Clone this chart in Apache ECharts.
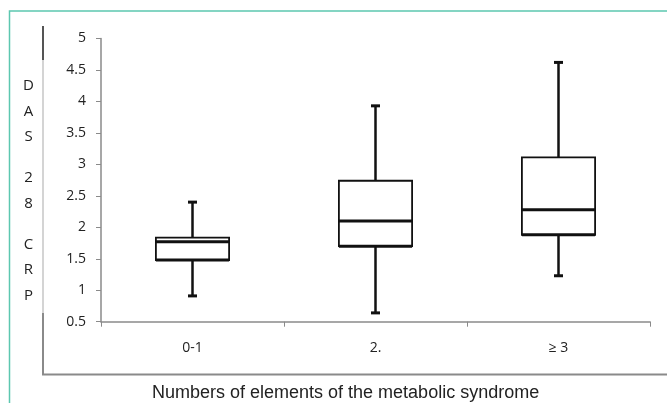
<!DOCTYPE html>
<html>
<head>
<meta charset="utf-8">
<script src="https://cdn.jsdelivr.net/npm/echarts@6/dist/echarts.min.js"></script>
<style>
html,body{margin:0;padding:0;background:#fff;}
#c{width:667px;height:403px;}
</style>
</head>
<body>
<div id="c"></div>
<script>
// Data
var categories = ['0-1', '2.', '\u2265 3'];
var lowWhisker = [0.91, 0.64, 1.23];
var q1Values   = [1.48, 1.70, 1.88];
var medians    = [1.77, 2.10, 2.28];
var q3Values   = [1.835, 2.74, 3.11];
var highWhisker= [2.40, 3.93, 4.62];
var yTicks = [0.5, 1, 1.5, 2, 2.5, 3, 3.5, 4, 4.5, 5];
var yAxisTitle = ['D','A','S',' ','2','8',' ','C','R','P'];
var xAxisTitle = 'Numbers of elements of the metabolic syndrome';

var boxData = categories.map(function (c, i) {
  return [i, lowWhisker[i], q1Values[i], medians[i], q3Values[i], highWhisker[i]];
});

var yTitleText = yAxisTitle.map(function (ch) {
  return ch === ' ' ? '{s| }' : '{a|' + ch + '}';
}).join('\n');

var chart = echarts.init(document.getElementById('c'));
var ink = '#111';
chart.setOption({
  animation: false,
  backgroundColor: '#fff',
  grid: { left: 101, right: 17, top: 38.5, bottom: 81.3 },
  xAxis: {
    type: 'category',
    data: categories,
    boundaryGap: true,
    axisLine: { lineStyle: { color: '#8a8a8a', width: 1.5 } },
    axisTick: { show: true, length: 5, alignWithLabel: false, lineStyle: { color: '#8a8a8a', width: 1 } },
    axisLabel: { margin: 19, color: '#222', fontFamily: 'Open Sans', fontSize: 14 },
    splitLine: { show: false }
  },
  yAxis: {
    type: 'value',
    min: yTicks[0],
    max: yTicks[yTicks.length - 1],
    interval: 0.5,
    axisLine: { show: true, lineStyle: { color: '#8a8a8a', width: 1.5 } },
    axisTick: { show: true, length: 5, lineStyle: { color: '#8a8a8a', width: 1 } },
    axisLabel: { margin: 15, color: '#222', fontFamily: 'Open Sans', fontSize: 14 },
    splitLine: { show: false }
  },
  graphic: [
    { type: 'polyline', silent: true, shape: { points: [[9.5, 403], [9.5, 11], [667, 11]] },
      style: { stroke: '#5cc7b0', lineWidth: 1.5, fill: null } },
    { type: 'line', silent: true, shape: { x1: 43, y1: 60, x2: 43, y2: 313 }, style: { stroke: '#d4d4d4', lineWidth: 2 } },
    { type: 'line', silent: true, shape: { x1: 43, y1: 26, x2: 43, y2: 60 }, style: { stroke: '#555', lineWidth: 2 } },
    { type: 'polyline', silent: true, shape: { points: [[43, 313], [43, 374.5], [667, 374.5]] },
      style: { stroke: '#8a8a8a', lineWidth: 2, fill: null } },
    { type: 'text', silent: true, left: 21, top: 78.5,
      style: {
        text: yTitleText, fill: '#222', font: '15px "Open Sans"',
        rich: {
          a: { fontSize: 15, fontFamily: 'Open Sans', lineHeight: 25.3, fill: '#222', align: 'center', width: 15 },
          s: { fontSize: 15, lineHeight: 16.2 }
        }
      } },
    { type: 'text', silent: true, left: 152, top: 384,
      style: { text: xAxisTitle, fill: '#222', font: '18px "Liberation Sans"' } }
  ],
  series: [{
    type: 'custom',
    data: boxData,
    encode: { x: 0, y: [1, 2, 3, 4, 5] },
    renderItem: function (params, api) {
      var xi = api.value(0);
      var lo = api.coord([xi, api.value(1)]);
      var q1 = api.coord([xi, api.value(2)]);
      var md = api.coord([xi, api.value(3)]);
      var q3 = api.coord([xi, api.value(4)]);
      var hi = api.coord([xi, api.value(5)]);
      var cx = lo[0];
      var bw = api.size([1, 0])[0] * 0.4;
      var half = bw / 2;
      var cap = 4.5;
      return {
        type: 'group',
        children: [
          { type: 'line', shape: { x1: cx, y1: hi[1], x2: cx, y2: q3[1] }, style: { stroke: ink, lineWidth: 2.5 } },
          { type: 'line', shape: { x1: cx, y1: q1[1], x2: cx, y2: lo[1] }, style: { stroke: ink, lineWidth: 2.5 } },
          { type: 'line', shape: { x1: cx - cap, y1: hi[1], x2: cx + cap, y2: hi[1] }, style: { stroke: ink, lineWidth: 3 } },
          { type: 'line', shape: { x1: cx - cap, y1: lo[1], x2: cx + cap, y2: lo[1] }, style: { stroke: ink, lineWidth: 3 } },
          { type: 'rect', shape: { x: cx - half, y: q3[1], width: bw, height: q1[1] - q3[1] },
            style: { fill: '#fff', stroke: ink, lineWidth: 1.8 } },
          { type: 'line', shape: { x1: cx - half, y1: q1[1], x2: cx + half, y2: q1[1] }, style: { stroke: ink, lineWidth: 3 } },
          { type: 'line', shape: { x1: cx - half, y1: md[1], x2: cx + half, y2: md[1] }, style: { stroke: ink, lineWidth: 3 } }
        ]
      };
    }
  }]
});
</script>
</body>
</html>
